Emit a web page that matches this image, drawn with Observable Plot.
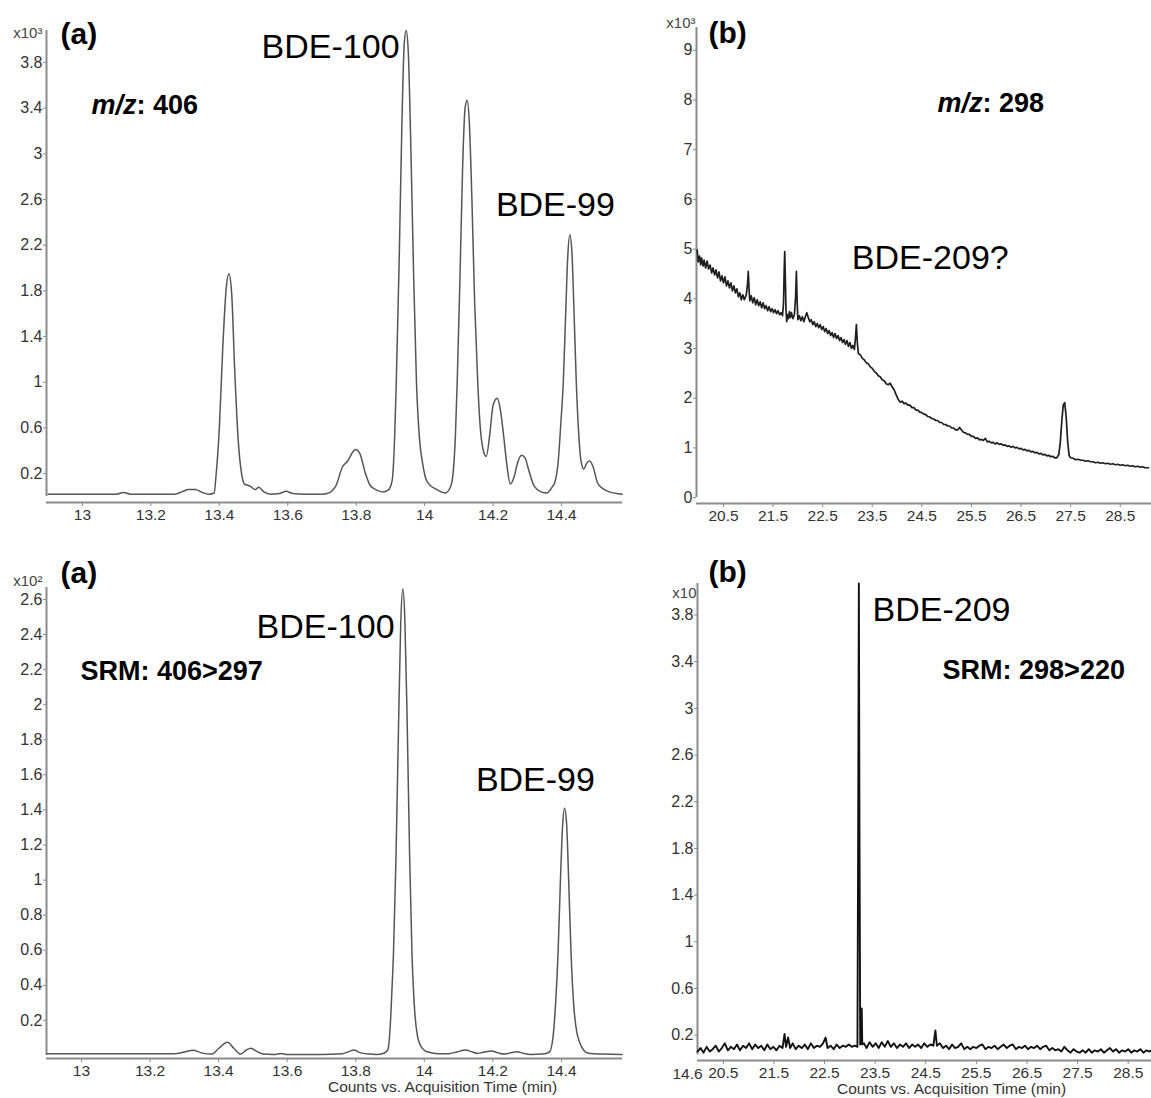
<!DOCTYPE html>
<html><head><meta charset="utf-8">
<script src="https://cdn.jsdelivr.net/npm/d3@7"></script>
<script src="https://cdn.jsdelivr.net/npm/@observablehq/plot@0.6"></script>
<style>
body{margin:0;background:#fff;font-family:"Liberation Sans",Arial,sans-serif;}
#fig{position:relative;width:1151px;height:1098px;overflow:hidden;background:#fff;}
.panel{position:absolute;}
</style></head><body><div id="fig"></div>
<script>
// ---------- data ----------
const panelTags = ["(a)", "(b)", "(a)", "(b)"];
const scaleTags = ["x10³", "x10³", "x10²", "x10"];
const compounds = ["BDE-100", "BDE-99", "BDE-209?", "BDE-100", "BDE-99", "BDE-209"];
const ionModes = ["m/z: 406", "m/z: 298", "SRM: 406>297", "SRM: 298>220"];
const axisTitle = "Counts vs. Acquisition Time (min)";
const startLabel = "14.6";

const xTicksA = [13, 13.2, 13.4, 13.6, 13.8, 14, 14.2, 14.4];
const xTicksB = [20.5, 21.5, 22.5, 23.5, 24.5, 25.5, 26.5, 27.5, 28.5];
const yTicksTL = [0.2, 0.6, 1, 1.4, 1.8, 2.2, 2.6, 3, 3.4, 3.8];
const yTicksTR = [0, 1, 2, 3, 4, 5, 6, 7, 8, 9];
const yTicksBL = [0.2, 0.4, 0.6, 0.8, 1, 1.2, 1.4, 1.6, 1.8, 2, 2.2, 2.4, 2.6];
const yTicksBR = [0.2, 0.6, 1, 1.4, 1.8, 2.2, 2.6, 3, 3.4, 3.8];

// (a) m/z 406 full scan, counts x10^3 vs time (min)
const traceTL = [
[12.90,0.02],[13.00,0.02],[13.10,0.02],[13.12,0.035],[13.14,0.02],[13.27,0.02],[13.29,0.04],[13.31,0.06],[13.33,0.06],[13.35,0.035],[13.37,0.02],[13.385,0.03],
[13.39,0.17],[13.40,0.6],[13.41,1.3],[13.42,1.82],[13.428,1.95],[13.436,1.78],[13.445,1.1],[13.455,0.5],[13.465,0.2],[13.473,0.11],[13.49,0.09],[13.505,0.06],[13.515,0.08],[13.53,0.04],[13.55,0.02],[13.575,0.025],[13.595,0.045],[13.615,0.025],[13.65,0.02],[13.70,0.02],[13.715,0.025],
[13.74,0.09],[13.76,0.26],[13.775,0.31],[13.79,0.39],[13.798,0.41],[13.81,0.38],[13.827,0.2],[13.84,0.1],[13.857,0.06],[13.88,0.04],[13.895,0.06],[13.905,0.14],
[13.912,0.5],[13.917,1.0],[13.925,2.0],[13.933,3.2],[13.94,3.95],[13.946,4.08],[13.952,3.9],[13.96,3.0],[13.968,1.9],[13.976,1.0],[13.985,0.5],[13.994,0.29],[14.003,0.16],[14.012,0.11],[14.036,0.06],[14.06,0.03],[14.075,0.08],
[14.083,0.2],[14.09,0.55],[14.095,1.0],[14.103,1.9],[14.111,2.9],[14.118,3.4],[14.124,3.47],[14.13,3.3],[14.138,2.6],[14.146,1.7],[14.155,1.0],[14.162,0.62],[14.17,0.42],[14.18,0.35],
[14.19,0.54],[14.2,0.8],[14.212,0.86],[14.22,0.78],[14.23,0.55],[14.24,0.28],[14.25,0.11],[14.26,0.16],[14.272,0.3],[14.283,0.36],[14.293,0.34],[14.305,0.22],[14.32,0.09],[14.34,0.04],[14.357,0.03],[14.372,0.08],
[14.38,0.12],[14.39,0.3],[14.398,0.65],[14.405,1.0],[14.412,1.6],[14.418,2.1],[14.424,2.29],[14.43,2.15],[14.436,1.65],[14.443,1.0],[14.45,0.55],[14.458,0.29],[14.465,0.24],[14.473,0.29],[14.482,0.31],[14.492,0.26],[14.505,0.12],[14.52,0.07],[14.54,0.04],[14.577,0.02]
];

// (b) m/z 298 full scan, counts x10^3
const traceTR = [
[19.97,4.98],[19.99,4.74],[20.02,4.86],[20.04,4.68],[20.06,4.82],[20.09,4.66],[20.11,4.78],[20.14,4.62],[20.17,4.76],[20.20,4.60],[20.23,4.68],[20.26,4.52],[20.29,4.62],[20.32,4.48],[20.35,4.58],[20.38,4.42],[20.41,4.54],[20.44,4.36],[20.47,4.46],[20.50,4.32],[20.53,4.44],[20.56,4.26],[20.59,4.36],[20.62,4.22],[20.65,4.32],[20.68,4.16],[20.71,4.26],[20.74,4.12],[20.77,4.20],[20.80,4.04],[20.83,4.12],[20.86,3.98],[20.89,4.08],[20.92,3.98],[20.96,4.08],[20.985,4.30],[21.00,4.55],[21.015,4.20],[21.03,3.96],[21.06,4.06],[21.09,3.92],[21.12,4.02],[21.15,3.88],[21.18,3.98],[21.21,3.86],[21.24,3.94],[21.27,3.82],[21.30,3.92],[21.33,3.80],[21.36,3.86],[21.39,3.76],[21.42,3.84],[21.45,3.74],[21.48,3.80],[21.51,3.72],[21.54,3.78],[21.57,3.70],[21.60,3.76],[21.63,3.68],[21.66,3.72],[21.69,3.66],[21.71,3.90],[21.725,4.60],[21.735,4.95],[21.745,4.50],[21.76,3.80],[21.775,3.54],[21.79,3.68],[21.81,3.60],[21.83,3.74],[21.85,3.62],[21.87,3.72],[21.90,3.60],[21.93,3.68],[21.955,4.05],[21.97,4.55],[21.985,3.95],[22.00,3.58],[22.03,3.66],[22.06,3.56],[22.09,3.64],[22.12,3.54],[22.15,3.64],[22.18,3.72],[22.21,3.62],[22.24,3.54],[22.27,3.58],[22.30,3.48],[22.33,3.54],[22.36,3.44],[22.39,3.50],[22.42,3.42],[22.45,3.48],[22.48,3.38],[22.51,3.44],[22.54,3.34],[22.57,3.40],[22.60,3.30],[22.63,3.36],[22.66,3.26],[22.69,3.32],[22.72,3.22],[22.75,3.30],[22.78,3.20],[22.81,3.26],[22.84,3.16],[22.87,3.22],[22.90,3.12],[22.93,3.18],[22.96,3.08],[22.99,3.16],[23.02,3.04],[23.05,3.12],[23.08,3.00],[23.11,3.06],[23.14,2.98],[23.16,3.20],[23.18,3.48],[23.20,3.10],[23.22,2.90],
[23.26,2.87],[23.30,2.80],[23.34,2.77],[23.38,2.71],[23.42,2.69],[23.46,2.63],[23.50,2.60],[23.54,2.54],[23.58,2.51],[23.62,2.45],[23.66,2.43],[23.70,2.37],[23.74,2.35],[23.78,2.29],[23.82,2.27],[23.86,2.30],[23.90,2.23],[23.94,2.17],[23.98,2.07],[24.02,1.98],
[24.06,1.92],[24.10,1.94],[24.14,1.89],[24.18,1.90],[24.22,1.86],[24.26,1.86],[24.30,1.81],[24.34,1.81],[24.38,1.76],[24.42,1.76],[24.46,1.72],[24.50,1.71],[24.54,1.68],[24.58,1.67],[24.62,1.63],[24.66,1.62],[24.70,1.59],[24.74,1.58],[24.78,1.55],[24.82,1.55],[24.86,1.51],[24.90,1.51],[24.94,1.47],[24.98,1.47],[25.02,1.44],[25.06,1.44],[25.10,1.40],[25.14,1.40],[25.18,1.36],[25.22,1.36],[25.26,1.41],[25.30,1.36],[25.34,1.31],[25.38,1.30],[25.42,1.27],[25.46,1.27],[25.50,1.23],[25.54,1.23],[25.58,1.19],[25.62,1.20],[25.66,1.16],[25.70,1.17],[25.74,1.15],[25.78,1.19],[25.82,1.12],[25.86,1.13],[25.90,1.10],[25.94,1.11],[25.98,1.08],[26.02,1.10],[26.06,1.07],[26.10,1.08],[26.14,1.05],[26.18,1.06],[26.22,1.03],[26.26,1.04],[26.30,1.01],[26.34,1.03],[26.38,1.00],[26.42,1.01],[26.46,0.98],[26.50,0.99],[26.54,0.96],[26.58,0.97],[26.62,0.94],[26.66,0.95],[26.70,0.92],[26.74,0.93],[26.78,0.90],[26.82,0.91],[26.86,0.88],[26.90,0.89],[26.94,0.86],[26.98,0.87],[27.02,0.84],[27.06,0.85],[27.10,0.82],[27.14,0.83],[27.18,0.80],[27.22,0.80],
[27.26,0.86],[27.29,1.10],[27.32,1.52],[27.35,1.86],[27.38,1.91],[27.41,1.62],[27.44,1.12],[27.47,0.84],[27.50,0.80],[27.55,0.79],[27.60,0.76],[27.65,0.77],[27.70,0.75],[27.75,0.75],[27.80,0.73],[27.85,0.74],[27.90,0.72],[27.95,0.72],[28.00,0.70],[28.05,0.71],[28.10,0.69],[28.15,0.70],[28.20,0.68],[28.25,0.69],[28.30,0.67],[28.35,0.68],[28.40,0.66],[28.45,0.67],[28.50,0.65],[28.55,0.66],[28.60,0.64],[28.65,0.65],[28.70,0.63],[28.75,0.64],[28.80,0.62],[28.85,0.63],[28.90,0.61],[28.95,0.62],[29.00,0.60],[29.07,0.60]
];

// (a) SRM 406>297, counts x10^2
const traceBL = [
[12.90,0.01],[13.10,0.01],[13.27,0.01],[13.30,0.02],[13.325,0.03],[13.35,0.015],[13.38,0.008],[13.40,0.04],[13.426,0.075],[13.445,0.04],[13.464,0.008],[13.48,0.03],[13.494,0.042],[13.51,0.025],[13.53,0.008],[13.56,0.006],[13.583,0.012],[13.60,0.006],[13.70,0.006],[13.76,0.01],[13.78,0.022],[13.795,0.032],[13.81,0.018],[13.84,0.008],[13.86,0.006],[13.88,0.012],
[13.893,0.03],[13.90,0.15],[13.905,0.35],[13.91,0.58],[13.917,1.1],[13.924,1.8],[13.931,2.45],[13.937,2.66],[13.943,2.5],[13.95,1.9],[13.957,1.15],[13.964,0.58],[13.972,0.25],[13.98,0.11],[13.988,0.06],[14.0,0.03],[14.012,0.02],[14.04,0.01],[14.07,0.01],[14.095,0.02],[14.119,0.032],[14.14,0.02],[14.155,0.012],[14.175,0.02],[14.196,0.026],[14.215,0.015],[14.232,0.008],[14.25,0.015],[14.271,0.022],[14.29,0.012],[14.31,0.006],[14.345,0.008],[14.365,0.02],
[14.375,0.1],[14.383,0.3],[14.39,0.58],[14.397,1.0],[14.403,1.3],[14.409,1.41],[14.415,1.32],[14.421,1.0],[14.428,0.58],[14.436,0.28],[14.445,0.13],[14.452,0.08],[14.465,0.03],[14.476,0.015],[14.52,0.008],[14.577,0.006]
];

// (b) SRM 298>220, counts x10^?
const traceBR = [
[19.99,0.06],[20.05,0.09],[20.11,0.05],[20.17,0.10],[20.23,0.06],[20.29,0.08],[20.35,0.11],[20.41,0.06],[20.47,0.09],[20.53,0.13],[20.59,0.07],[20.65,0.10],[20.71,0.08],[20.77,0.12],[20.83,0.07],[20.89,0.11],[20.95,0.09],[21.01,0.13],[21.07,0.08],[21.13,0.12],[21.19,0.09],[21.25,0.11],[21.31,0.07],[21.37,0.12],[21.43,0.08],[21.49,0.10],[21.55,0.07],[21.61,0.11],[21.67,0.09],[21.71,0.21],[21.74,0.10],[21.78,0.18],[21.82,0.09],[21.87,0.13],[21.93,0.08],[21.99,0.11],[22.05,0.09],[22.11,0.12],[22.17,0.08],[22.23,0.13],[22.29,0.09],[22.35,0.11],[22.41,0.10],[22.47,0.13],[22.52,0.18],[22.56,0.09],[22.62,0.11],[22.68,0.08],[22.74,0.12],[22.80,0.09],[22.86,0.11],[22.92,0.10],[22.98,0.12],[23.04,0.10],[23.10,0.11],[23.15,0.10],
[23.165,2.0],[23.178,4.07],[23.19,2.0],[23.205,0.12],[23.225,0.15],[23.235,0.43],[23.245,0.12],
[23.28,0.13],[23.33,0.09],[23.39,0.14],[23.45,0.10],[23.51,0.13],[23.57,0.09],[23.63,0.14],[23.69,0.10],[23.75,0.15],[23.81,0.10],[23.87,0.13],[23.93,0.09],[23.99,0.12],[24.05,0.10],[24.11,0.13],[24.17,0.09],[24.23,0.12],[24.29,0.10],[24.35,0.12],[24.41,0.09],[24.47,0.13],[24.53,0.10],[24.59,0.12],[24.65,0.11],[24.69,0.24],[24.72,0.11],[24.78,0.13],[24.84,0.09],[24.90,0.11],[24.96,0.08],[25.02,0.12],[25.08,0.09],[25.14,0.10],[25.20,0.13],[25.26,0.08],[25.32,0.10],[25.38,0.08],[25.44,0.10],[25.50,0.09],[25.56,0.11],[25.62,0.12],[25.68,0.08],[25.74,0.10],[25.80,0.09],[25.86,0.11],[25.92,0.08],[25.98,0.10],[26.04,0.12],[26.10,0.09],[26.16,0.11],[26.22,0.12],[26.28,0.08],[26.34,0.10],[26.40,0.09],[26.46,0.11],[26.52,0.08],[26.58,0.10],[26.64,0.09],[26.70,0.11],[26.76,0.08],[26.82,0.10],[26.88,0.11],[26.94,0.07],[27.00,0.09],[27.06,0.07],[27.12,0.08],[27.18,0.06],[27.24,0.10],[27.30,0.07],[27.36,0.05],[27.42,0.08],[27.48,0.06],[27.54,0.05],[27.60,0.07],[27.66,0.05],[27.72,0.08],[27.78,0.05],[27.84,0.07],[27.90,0.06],[27.96,0.08],[28.02,0.05],[28.08,0.07],[28.14,0.09],[28.20,0.06],[28.26,0.08],[28.32,0.05],[28.38,0.07],[28.44,0.06],[28.50,0.08],[28.56,0.05],[28.62,0.07],[28.68,0.06],[28.74,0.08],[28.80,0.05],[28.86,0.07],[28.92,0.06],[28.96,0.07]
];

// ---------- drawing ----------
const FONT = "'Liberation Sans', Arial, Helvetica, sans-serif";
const AXIS = "#8c8c8c";
const fmt = d3.format("~g");
const fig = document.getElementById("fig");

function txt(x, y, s, o = {}) {
  return Plot.text([0], {x: () => x, y: () => y, text: () => s, fill: "#000", fontFamily: FONT, ...o});
}
function ionLabel(x, y, s, size) {
  if (s.startsWith("m/z")) {
    return [
      txt(x, y, "m/z", {fontSize: size, fontWeight: "bold", fontStyle: "italic", textAnchor: "end"}),
      txt(x, y, s.slice(3), {fontSize: size, fontWeight: "bold", textAnchor: "start"})
    ];
  }
  return [txt(x, y, s, {fontSize: size, fontWeight: "bold", textAnchor: "start"})];
}

function panel(c) {
  const marks = [
    Plot.ruleY([c.yDomain[0]], {stroke: AXIS, strokeWidth: 2}),
    Plot.ruleX([c.xDomain[0]], {y1: c.yBase, y2: c.yDomain[1], stroke: AXIS, strokeWidth: 2}),
    Plot.axisX(c.xTicks, {tickSize: 4, tickPadding: 2, fontSize: 15.5, stroke: AXIS, fill: "#333", tickFormat: fmt, fontFamily: FONT}),
    Plot.axisY(c.yTicks, {tickSize: 3, tickPadding: 1, fontSize: 16, stroke: AXIS, fill: "#333", tickFormat: fmt, fontFamily: FONT}),
    Plot.line(c.trace, {x: d => d[0], y: d => d[1], curve: c.curve, stroke: c.stroke, strokeWidth: c.sw, strokeLinejoin: "round"}),
    ...c.texts
  ];
  const svg = Plot.plot({
    width: c.width, height: c.height,
    marginLeft: c.ml, marginRight: c.mr, marginTop: c.mt, marginBottom: c.mb,
    x: {domain: c.xDomain}, y: {domain: c.yDomain},
    style: {fontFamily: FONT, background: "transparent", overflow: "visible"},
    marks
  });
  const div = document.createElement("div");
  div.className = "panel";
  div.style.left = c.left + "px"; div.style.top = c.top + "px";
  div.appendChild(svg);
  fig.appendChild(div);
}

// top-left (a) m/z 406
panel({
  left: 0, top: 0, width: 640, height: 540, ml: 46, mr: 18, mt: 30, mb: 38,
  xDomain: [12.895, 14.578], yDomain: [-0.053, 4.08], yBase: 0,
  xTicks: xTicksA, yTicks: yTicksTL, trace: traceTL, curve: "monotone-x", stroke: "#555", sw: 1.5,
  texts: [
    txt(12.883, 4.054, scaleTags[0], {fontSize: 15, fill: "#444", textAnchor: "end"}),
    txt(12.936, 4.045, panelTags[0], {fontSize: 30, fontWeight: "bold", textAnchor: "start"}),
    txt(13.725, 3.931, compounds[0], {fontSize: 34}),
    txt(14.382, 2.548, compounds[1], {fontSize: 34}),
    ...ionLabel(13.158, 3.423, ionModes[0], 27)
  ]
});

// top-right (b) m/z 298
panel({
  left: 640, top: 0, width: 511, height: 540, ml: 56, mr: 0, mt: 27, mb: 37,
  xDomain: [19.956, 29.13], yDomain: [-0.12, 9.46], yBase: 0,
  xTicks: xTicksB, yTicks: yTicksTR, trace: traceTR, curve: "linear", stroke: "#1e1e1e", sw: 1.7,
  texts: [
    txt(19.936, 9.54, scaleTags[1], {fontSize: 15, fill: "#444", textAnchor: "end"}),
    txt(20.198, 9.34, panelTags[1], {fontSize: 30, fontWeight: "bold", textAnchor: "start"}),
    txt(24.67, 4.81, compounds[2], {fontSize: 34}),
    ...ionLabel(25.722, 7.93, ionModes[1], 27)
  ]
});

// bottom-left (a) SRM 406>297
panel({
  left: 0, top: 540, width: 640, height: 558, ml: 46, mr: 18, mt: 47, mb: 40,
  xDomain: [12.898, 14.578], yDomain: [-0.017, 2.668], yBase: 0,
  xTicks: xTicksA, yTicks: yTicksBL, trace: traceBL, curve: "monotone-x", stroke: "#555", sw: 1.5,
  texts: [
    txt(12.886, 2.703, scaleTags[2], {fontSize: 15, fill: "#444", textAnchor: "end"}),
    txt(12.939, 2.748, panelTags[2], {fontSize: 30, fontWeight: "bold", textAnchor: "start"}),
    txt(13.712, 2.44, compounds[3], {fontSize: 34}),
    txt(14.324, 1.568, compounds[4], {fontSize: 34}),
    ...ionLabel(12.997, 2.189, ionModes[2], 27),
    txt(14.053, -0.182, axisTitle, {fontSize: 15.5, fill: "#333"})
  ]
});

// bottom-right (b) SRM 298>220
panel({
  left: 640, top: 540, width: 511, height: 558, ml: 57, mr: 0, mt: 43, mb: 38,
  xDomain: [19.99, 28.96], yDomain: [-0.017, 4.07], yBase: 0.03,
  xTicks: xTicksB, yTicks: yTicksBR, trace: traceBR, curve: "linear", stroke: "#111", sw: 1.9,
  texts: [
    txt(19.97, 3.985, scaleTags[3], {fontSize: 15, fill: "#444", textAnchor: "end"}),
    txt(20.207, 4.165, panelTags[3], {fontSize: 30, fontWeight: "bold", textAnchor: "start"}),
    txt(23.449, 3.839, compounds[5], {fontSize: 34, textAnchor: "start"}),
    ...ionLabel(24.832, 3.325, ionModes[3], 27),
    txt(19.792, -0.137, startLabel, {fontSize: 15.5, fill: "#333"}),
    txt(25.01, -0.265, axisTitle, {fontSize: 15.5, fill: "#333"})
  ]
});
</script>
</body></html>
